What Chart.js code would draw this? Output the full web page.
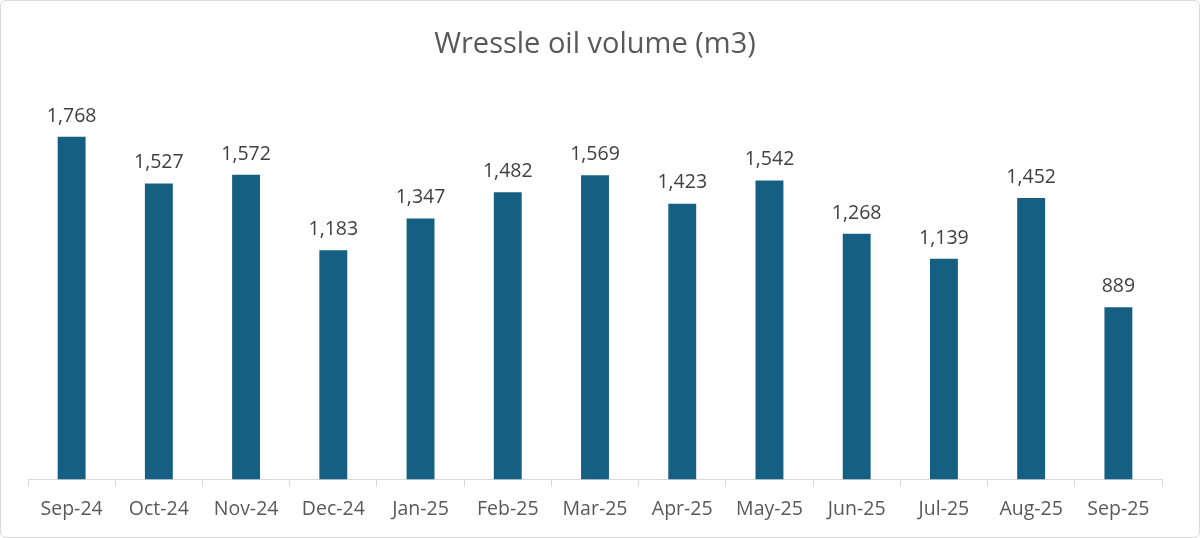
<!DOCTYPE html>
<html>
<head>
<meta charset="utf-8">
<script src="https://cdn.jsdelivr.net/npm/chart.js@4"></script>
<style>
  html, body { margin: 0; padding: 0; background: #fff; }
  #wrap { position: relative; width: 1200px; height: 538px; }
  #frame { position: absolute; left: 0; top: 0; width: 1198px; height: 536px;
           border: 1px solid #d9d9d9; border-radius: 6px; pointer-events: none; }
</style>
</head>
<body>
<div id="wrap">
  <canvas id="myChart" width="1200" height="538"></canvas>
  <div id="frame"></div>
</div>
<script>
const months = ["Sep-24", "Oct-24", "Nov-24", "Dec-24", "Jan-25", "Feb-25", "Mar-25",
  "Apr-25", "May-25", "Jun-25", "Jul-25", "Aug-25", "Sep-25"];
const oilVolume = [1768, 1527, 1572, 1183, 1347, 1482, 1569, 1423, 1542, 1268, 1139, 1452, 889];

const fontFamily = "'Open Sans', 'Liberation Sans', sans-serif";

// value labels above each bar
const barLabels = {
  id: "barLabels",
  afterDatasetsDraw(chart) {
    const c = chart.ctx;
    const meta = chart.getDatasetMeta(0);
    c.save();
    c.font = "19.5px " + fontFamily;
    c.fillStyle = "#404040";
    c.textAlign = "center";
    c.textBaseline = "bottom";
    meta.data.forEach((bar, i) => {
      c.fillText(oilVolume[i].toLocaleString("en-US"), bar.x, bar.y - 11);
    });
    c.restore();
  },
};

let ctx = document.getElementById("myChart").getContext("2d");
let myChart = new Chart(ctx, {
  type: "bar",
  data: {
    labels: months,
    datasets: [
      {
        data: oilVolume,
        backgroundColor: "#156082",
        categoryPercentage: 1,
        barPercentage: 0.32,
      },
    ],
  },
  options: {
    responsive: false,
    animation: false,
    layout: { padding: { left: 28, right: 38, top: 0, bottom: 6 } },
    plugins: {
      legend: { display: false },
      tooltip: { enabled: false },
      title: {
        display: true,
        text: "Wressle oil volume (m3)",
        color: "#595959",
        font: { family: fontFamily, size: 29, weight: "normal" },
        padding: { top: 27.5, bottom: 29.5 },
      },
    },
    scales: {
      y: {
        display: false,
        min: 0,
        max: 2000,
      },
      x: {
        grid: {
          drawOnChartArea: false,
          color: "#d9d9d9",
          tickLength: 7,
        },
        border: { color: "#d9d9d9" },
        ticks: {
          color: "#595959",
          padding: 11,
          font: { family: fontFamily, size: 19.5 },
          maxRotation: 0,
        },
      },
    },
  },
  plugins: [barLabels],
});
</script>
</body>
</html>
